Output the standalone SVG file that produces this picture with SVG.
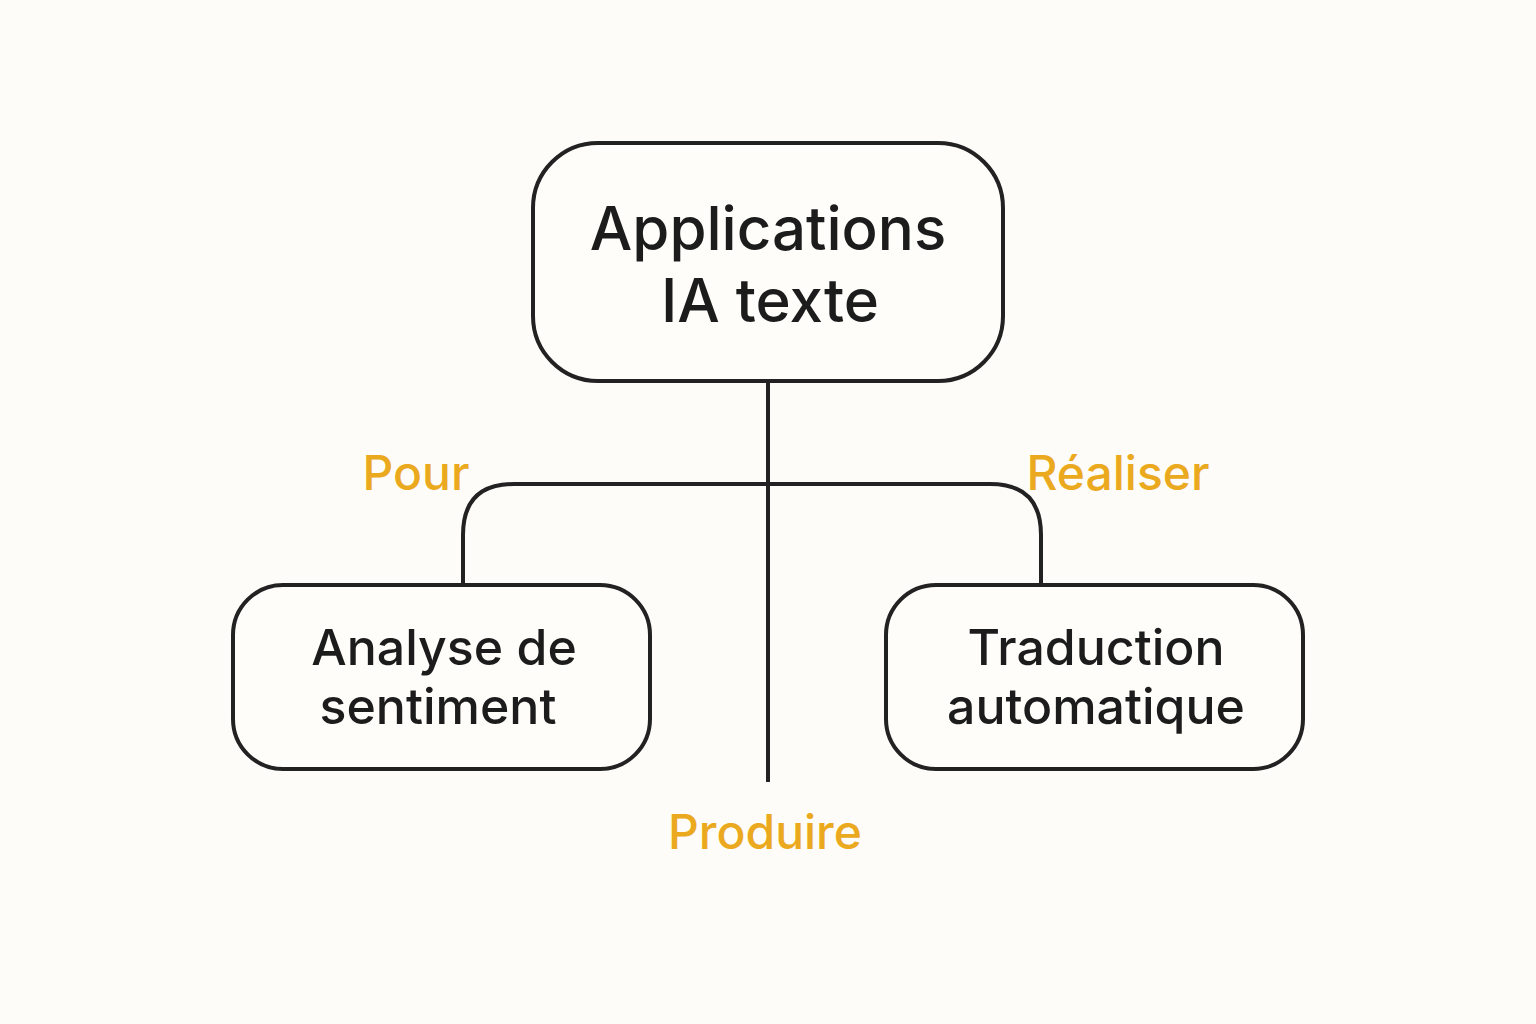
<svg xmlns="http://www.w3.org/2000/svg" width="1536" height="1024" viewBox="0 0 1536 1024">
<style>
.box{fill:#FEFDF9;stroke:#222;stroke-width:4}
.t{font-family:Inter,"Noto Sans",sans-serif;fill:#1c1c1c;text-anchor:middle;font-weight:500}
.l{font-family:Inter,"Noto Sans",sans-serif;fill:#EBA920;text-anchor:middle;font-size:48px;font-weight:500}
.c{fill:none;stroke:#222;stroke-width:4}
</style>
<rect width="1536" height="1024" fill="#FDFCF8"/>
<g id="connectors">
<path class="c" d="M768 381V782"/>
<path class="c" d="M463 585V535Q463 484 514 484H990Q1041 484 1041 535V585"/>
</g>
<g id="root"><rect class="box" x="533" y="143" width="470" height="238" rx="65"/>
<text class="t" font-size="60" x="768" y="250">Applications</text>
<text class="t" font-size="60" x="770" y="322">IA texte</text></g>
<g id="sentiment"><rect class="box" x="233" y="585" width="417" height="184" rx="50"/>
<text class="t" font-size="50" x="444" y="665">Analyse de</text>
<text class="t" font-size="50" x="438" y="724">sentiment</text></g>
<g id="traduction"><rect class="box" x="886" y="585" width="417" height="184" rx="50"/>
<text class="t" font-size="50" x="1096" y="665">Traduction</text>
<text class="t" font-size="50" x="1096" y="724">automatique</text></g>
<text class="l" x="416" y="490">Pour</text>
<text class="l" x="1118" y="490">Réaliser</text>
<text class="l" x="765" y="849">Produire</text>
</svg>
